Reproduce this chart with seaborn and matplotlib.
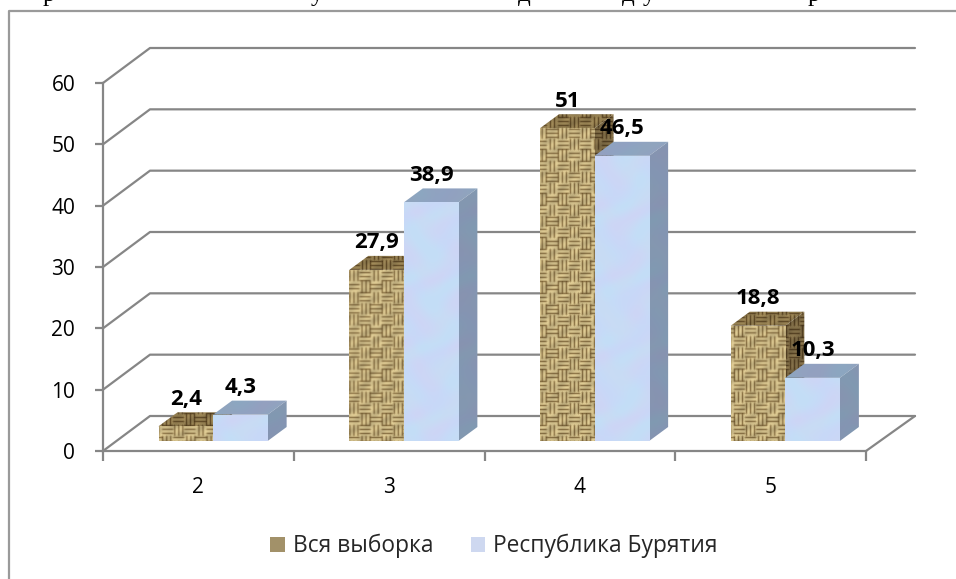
import numpy as np
import pandas as pd
import seaborn as sns
import matplotlib.pyplot as plt
from matplotlib.lines import Line2D
from matplotlib.patches import Polygon

# values
grades = ["2", "3", "4", "5"]
all_sample = [2.4, 27.9, 51, 18.8]
buryatia = [4.3, 38.9, 46.5, 10.3]
series_names = ["Вся выборка", "Республика Бурятия"]
y_ticks = [0, 10, 20, 30, 40, 50, 60]

W, H = 956, 579
GRAY = "#868686"


def rect(left, top, width, height):
    # pixel box (y from the top) to figure fractions
    return [left / W, 1 - (top + height) / H, width / W, height / H]


def smooth(img):
    return (img * 2 + np.roll(img, 1, 0) + np.roll(img, 1, 1) + np.roll(img, -1, 0) + np.roll(img, -1, 1)) / 6


# burlap weave for the first series
def weave(w, h, cell=11):
    yy, xx = np.mgrid[:h, :w]
    horiz = (xx // cell + yy // cell) % 2 == 0
    dark = np.where(horiz, yy % 4, xx % 4) == 0
    light = np.array([226, 206, 150]) / 255
    shade = np.array([104, 76, 34]) / 255
    img = np.where(dark[..., None], shade, light)
    # uneven threads
    vary = 0.92 + 0.08 * np.sin(xx / 3.1 + yy / 2.3) * np.sin(yy / 5.7 - xx / 7.9)
    return smooth(img * vary[..., None])


# soft marbled blue for the second series
def marble(w, h):
    yy, xx = np.mgrid[:h, :w]
    a = 0.5 + 0.5 * np.sin(xx / 9 + np.sin(yy / 11) * 2 + yy / 15)
    b = 0.5 + 0.5 * np.sin(yy / 8 - np.cos(xx / 10) * 2)
    c1 = np.array([192, 226, 246]) / 255
    c2 = np.array([212, 210, 242]) / 255
    c3 = np.array([200, 216, 248]) / 255
    img = (a[..., None] * c1 + (1 - a[..., None]) * c3) * 0.6 + (b[..., None] * c3 + (1 - b[..., None]) * c2) * 0.4
    return img


sns.set_theme(style="white")
plt.rcParams["font.family"] = ["Open Sans", "DejaVu Sans"]

fig = plt.figure(figsize=(W / 100, H / 100), dpi=100)
fig.patch.set_facecolor("white")

# outer frame (only top and left are in view)
fig.add_artist(Line2D([9 / W, 9 / W, 1], [0, 1 - 10.5 / H, 1 - 10.5 / H], color="#9a9a9a", lw=1.6))

# cut off line of the document text above the chart
for px, ch in [(49, "р"), (317, "у"), (524, "д"), (628, "д"), (649, "у"), (814, "р")]:
    fig.text(px / W, 1 - 0.5 / H, ch, family="Liberation Serif", fontsize=18, color="black", ha="center", va="baseline")

# front plane: axis, ticks and walls
ax = fig.add_axes(rect(103, 83, 763, 368))
ax.set_xlim(-0.5, 3.5)
ax.set_ylim(0, 60)
ax.patch.set_visible(False)
sns.despine(ax=ax)
for s in ["left", "bottom"]:
    ax.spines[s].set_color(GRAY)
    ax.spines[s].set_linewidth(1.6)

ax.set_yticks(y_ticks)
ax.set_xticks(range(len(grades)))
ax.set_xticklabels(grades)
ax.set_xticks(np.arange(len(grades) + 1) - 0.5, minor=True)
ax.tick_params(axis="y", length=6, width=1.6, color=GRAY, labelsize=15, pad=14, labelcolor="black", left=True)
ax.tick_params(axis="x", which="major", length=0, labelsize=15, pad=19, labelcolor="black")
ax.tick_params(axis="x", which="minor", length=7, width=1.6, color=GRAY, bottom=True)

wall_dx = 47 / 190.75
wall_dy = 35 / 6.133
back_end = 3.5 + 49 / 190.75
for v in y_ticks:
    ax.plot([-0.5, -0.5 + wall_dx, back_end], [v, v + wall_dy, v + wall_dy], color=GRAY, lw=1.6, clip_on=False, zorder=1)
ax.plot([3.5, back_end], [0, wall_dy], color=GRAY, lw=1.6, clip_on=False, zorder=1)

# bars live in their own axes, shifted into the depth of the floor
bax = fig.add_axes(rect(117.7, 73, 763, 368))
df = pd.DataFrame({
    "grade": grades * 2,
    "value": all_sample + buryatia,
    "series": [series_names[0]] * 4 + [series_names[1]] * 4,
})
sns.barplot(data=df, x="grade", y="value", hue="series", hue_order=series_names,
            palette=["#ab9560", "#c8d6f6"], width=0.572, gap=0, linewidth=0, ax=bax)
bax.set_xlim(-0.5, 3.5)
bax.set_ylim(0, 60)

bar_dx = 19 / 190.75
bar_dy = 14 / 6.133
tex_w, tex_h = 763, 368
textures = [weave(tex_w, tex_h), marble(tex_w, tex_h)]
side_tint = [np.array([0.62, 0.58, 0.52]), np.array([0.66, 0.69, 0.72])]
top_tint = [np.array([0.72, 0.68, 0.60]), np.array([0.72, 0.75, 0.78])]


def textured(tex, clip, z):
    im = bax.imshow(tex, extent=(0, 1, 0, 1), transform=bax.transAxes, aspect="auto", zorder=z, interpolation="bilinear")
    im.set_clip_path(clip)


for i, container in enumerate(bax.containers):
    z = 3 + i * 2
    for bar in container:
        x0, w, h = bar.get_x(), bar.get_width(), bar.get_height()
        x1 = x0 + w
        bar.set_zorder(z + 1)
        top = Polygon([(x0, h), (x1, h), (x1 + bar_dx, h + bar_dy), (x0 + bar_dx, h + bar_dy)], facecolor="none", lw=0, zorder=z)
        side = Polygon([(x1, 0), (x1 + bar_dx, bar_dy), (x1 + bar_dx, h + bar_dy), (x1, h)], facecolor="none", lw=0, zorder=z)
        bax.add_patch(top)
        bax.add_patch(side)
        textured(textures[i] * top_tint[i], top, z)
        textured(textures[i] * side_tint[i], side, z)
        textured(textures[i], bar, z + 1.5)
        label = str(bar.get_height()).replace(".0", "").replace(".", ",")
        bax.annotate(label, (x0 + w / 2, h), xytext=(0, 19.5), textcoords="offset points", ha="center", va="center",
                     fontsize=16, fontweight="bold", color="black", zorder=20, annotation_clip=False)

bax.set_xlim(-0.5, 3.5)
bax.set_ylim(0, 60)
bax.axis("off")
bax.patch.set_visible(False)

handles, labels = bax.get_legend_handles_labels()
bax.legend(handles, labels, ncols=2, frameon=False, fontsize=16.4, loc="center",
           bbox_to_anchor=(494 / W, 1 - 546 / H), bbox_transform=fig.transFigure,
           handlelength=0.62, handleheight=0.62, handletextpad=0.36, columnspacing=1.65, borderpad=0)

fig.savefig("out.png", dpi=100)
